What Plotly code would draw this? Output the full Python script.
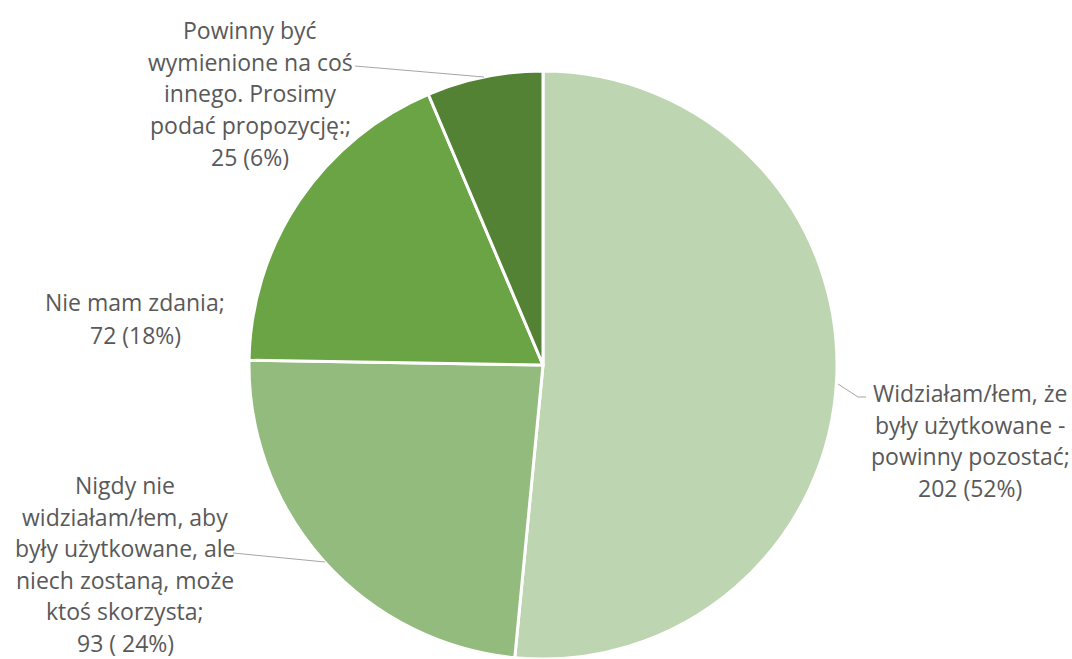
import plotly.graph_objects as go

categories = [
    "Widziałam/łem, że\nbyły użytkowane -\npowinny pozostać;",
    "Nigdy nie\nwidziałam/łem, aby\nbyły użytkowane, ale\nniech zostaną, może\nktoś skorzysta;",
    "Nie mam zdania;",
    "Powinny być\nwymienione na coś\ninnego. Prosimy\npodać propozycję:;",
]
values = [202, 93, 72, 25]
value_texts = ["202 (52%)", "93 ( 24%)", "72 (18%)", "25 (6%)"]
colors = ["#BDD6B1", "#93BB7E", "#6AA444", "#548235"]

W, H = 1072, 659
CX, CY, R = 543, 365, 294

# label block centres (px of first line) and line spacing
label_pos = [(970, 393), (125, 485), (135, 302), (250, 30)]
line_gap = [31.6, 31.6, 33, 31.7]

fig = go.Figure(go.Pie(
    values=values,
    labels=[c.replace("\n", " ") for c in categories],
    sort=False,
    direction="clockwise",
    rotation=0,
    marker=dict(colors=colors, line=dict(color="white", width=3)),
    textinfo="none",
    hoverinfo="label+value+percent",
    domain=dict(x=[2 * CX / W - 1, 1], y=[0, 1 - (CY - R) / H]),
    showlegend=False,
))

annotations = []
for cat, vt, (cx, cy), gap in zip(categories, value_texts, label_pos, line_gap):
    lines = cat.split("\n") + [vt]
    for i, ln in enumerate(lines):
        annotations.append(dict(
            x=cx / W, y=1 - (cy + i * gap) / H, xref="paper", yref="paper",
            text=ln, showarrow=False, xanchor="center", yanchor="middle",
            font=dict(family="Open Sans", size=23, color="#595959"),
        ))

def seg(x0, y0, x1, y1):
    return dict(type="line", xref="paper", yref="paper",
                x0=x0 / W, y0=1 - y0 / H, x1=x1 / W, y1=1 - y1 / H,
                line=dict(color="#A6A6A6", width=1))

shapes = [
    seg(355, 66, 484, 77),
    seg(838, 384, 858, 397), seg(858, 397, 866, 397),
    seg(233, 553, 325, 562),
]

fig.update_layout(
    width=W, height=H,
    margin=dict(l=0, r=0, t=0, b=0),
    paper_bgcolor="white", plot_bgcolor="white",
    annotations=annotations, shapes=shapes,
)

fig.write_html(
    "out.html",
    config={"displayModeBar": False},
    post_script="document.body.style.margin='0';document.body.style.overflow='hidden';",
)
